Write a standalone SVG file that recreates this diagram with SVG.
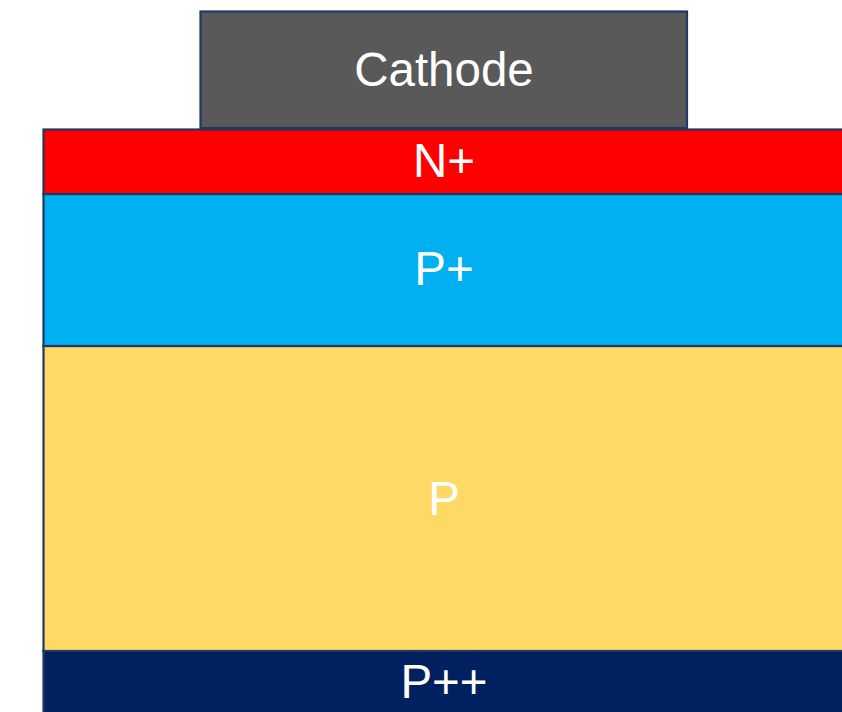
<svg xmlns="http://www.w3.org/2000/svg" width="842" height="712" viewBox="0 0 842 712">
<style>
.layer{stroke:#1f3864;stroke-width:2.2}
.lbl{font-family:"Liberation Sans",Arial,sans-serif;font-size:47.5px;fill:#ffffff;text-anchor:middle}
</style>
<rect width="842" height="712" fill="#ffffff"/>
<g id="cathode">
<rect class="layer" x="200.5" y="11.5" width="486.5" height="116.5" fill="#595959"/>
<text class="lbl" x="444" y="86">Cathode</text>
</g>
<g id="p-plus-plus">
<rect class="layer" x="43.5" y="651" width="810" height="70" fill="#002060"/>
<text class="lbl" x="444" y="698">P++</text>
</g>
<g id="p">
<rect class="layer" x="43.5" y="346" width="810" height="305" fill="#FFD966"/>
<text class="lbl" x="444" y="515">P</text>
</g>
<g id="p-plus">
<rect class="layer" x="43.5" y="194" width="810" height="152" fill="#00B0F0"/>
<text class="lbl" x="444" y="285">P+</text>
</g>
<g id="n-plus">
<rect class="layer" x="43.5" y="129.5" width="810" height="64.5" fill="#FF0000"/>
<text class="lbl" x="444" y="177">N+</text>
</g>
<g id="connectors"/>
</svg>
